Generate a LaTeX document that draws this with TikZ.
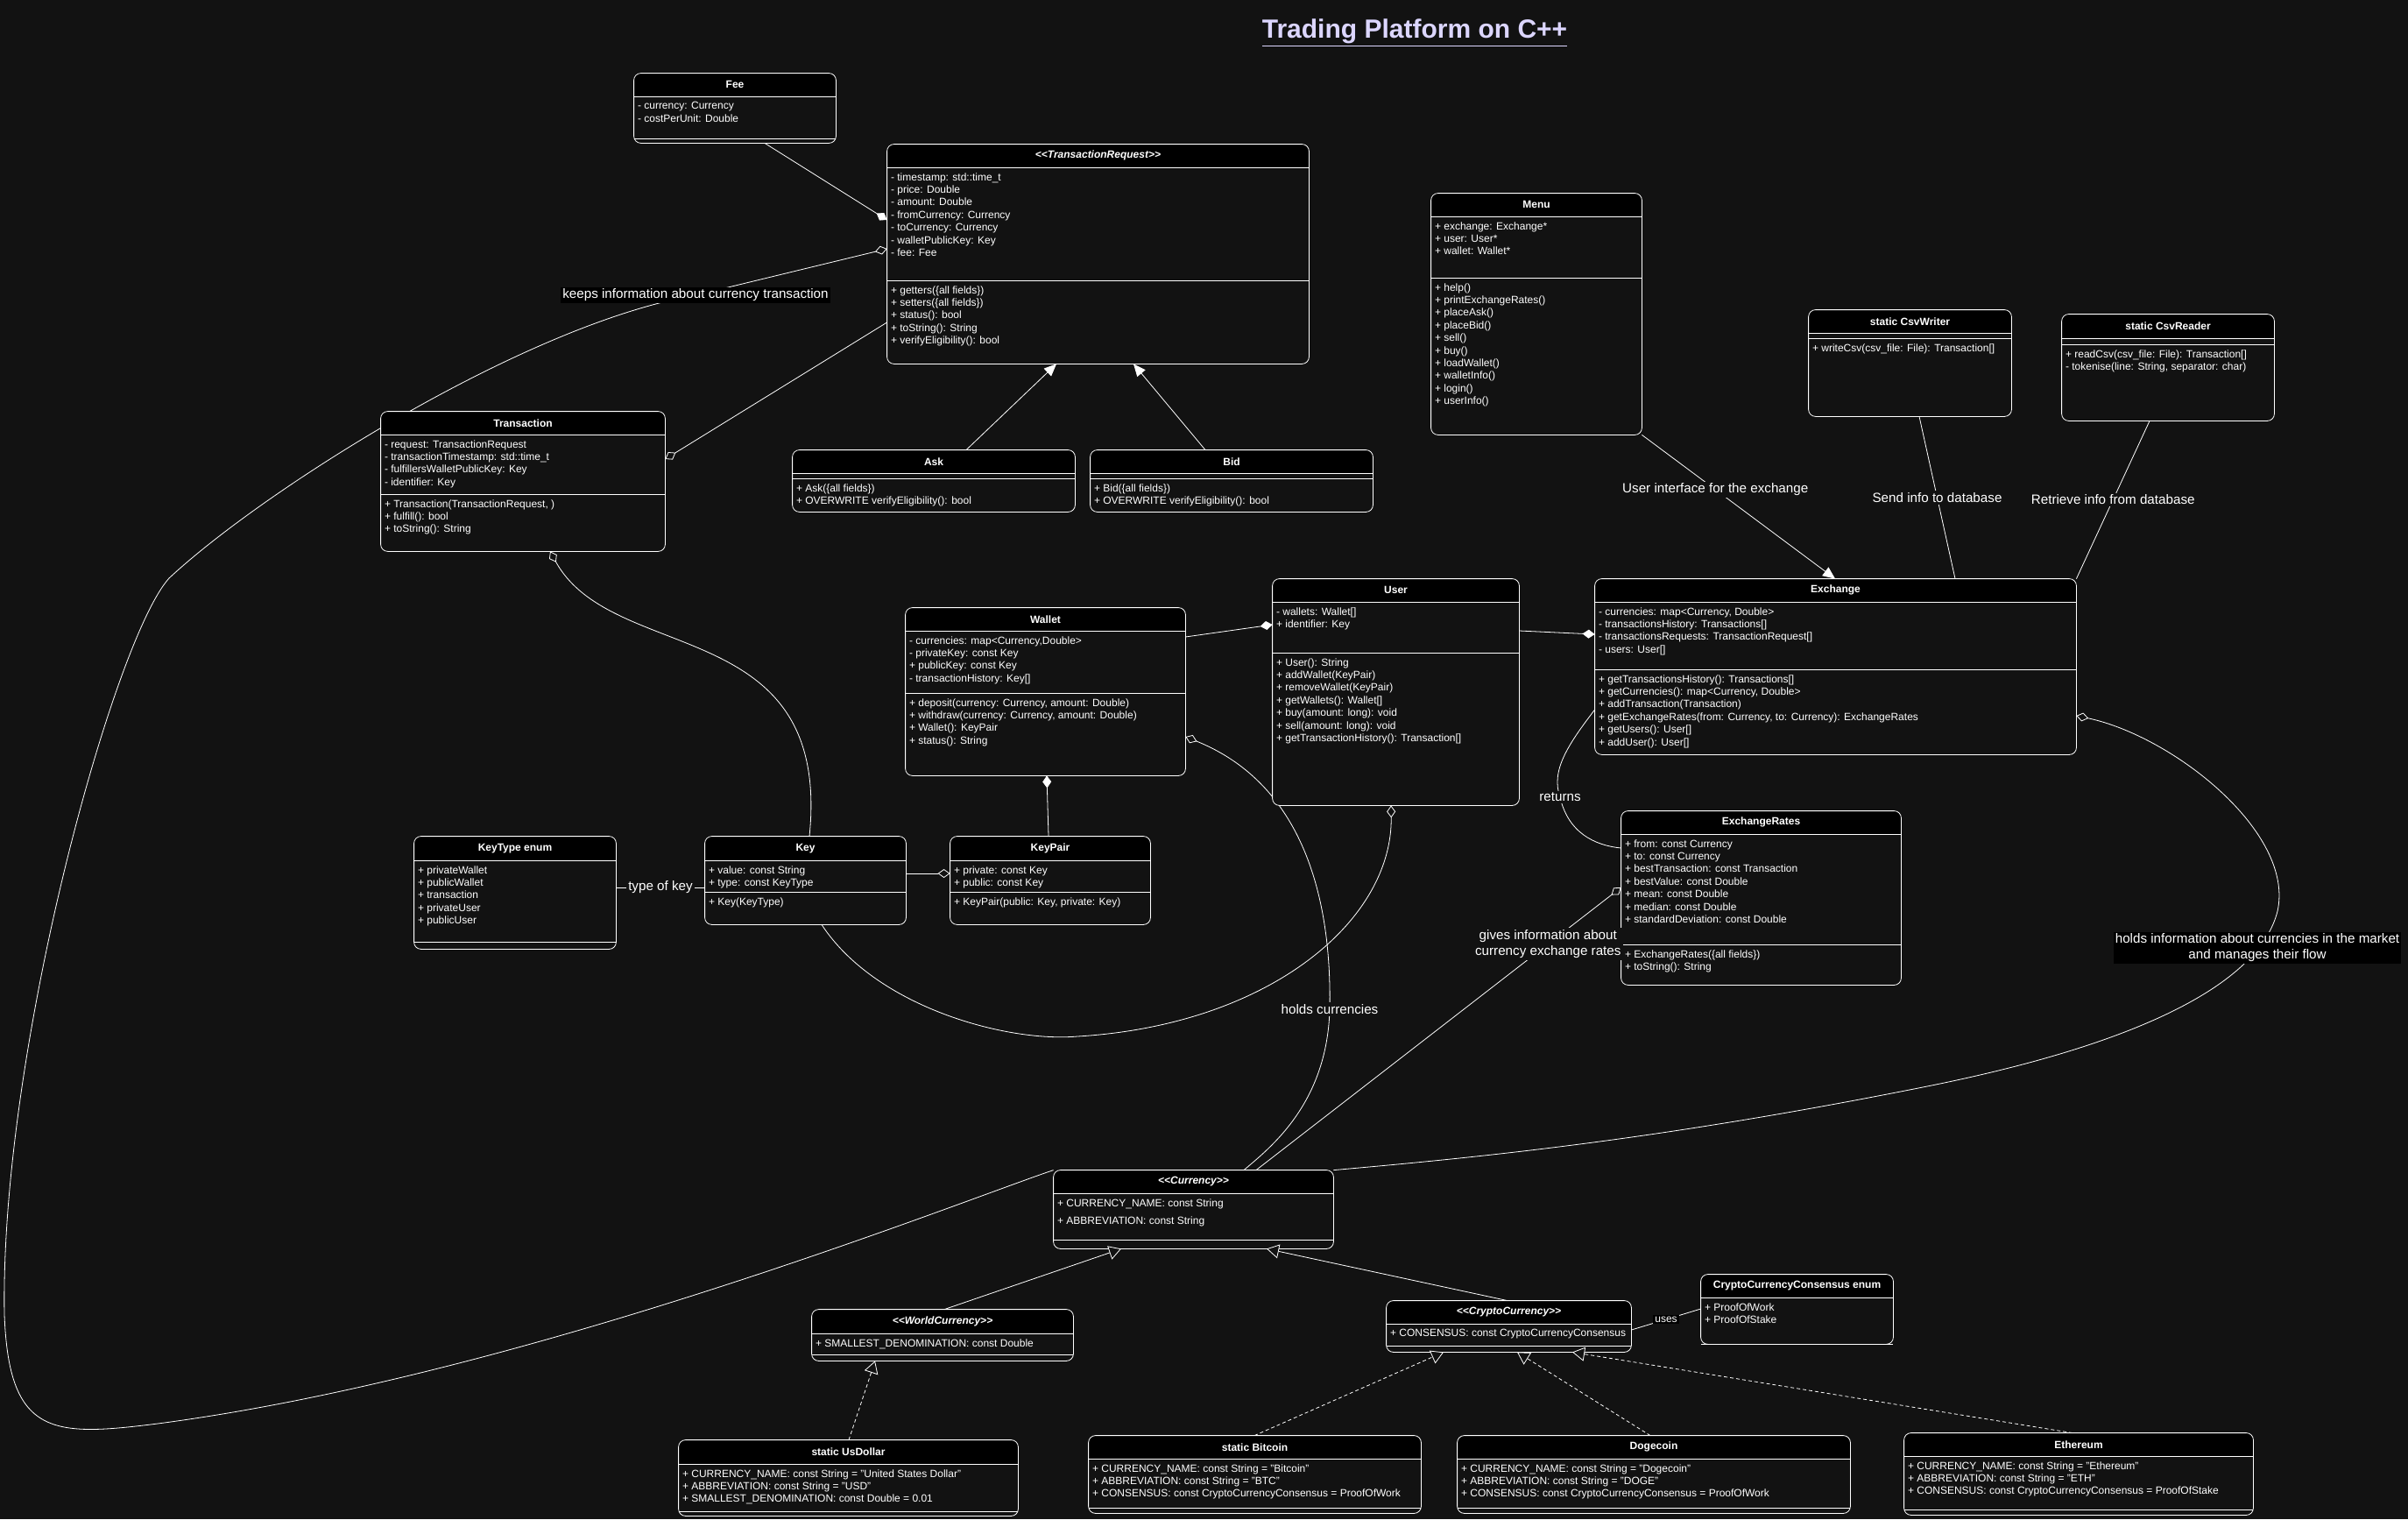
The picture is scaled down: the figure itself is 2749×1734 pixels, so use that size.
\documentclass[tikz,border=0pt]{standalone}
\usepackage{fontspec}
\setmainfont{Liberation Sans}
\usepackage{tikz}
\usetikzlibrary{fit,arrows.meta}
\pgfdeclarelayer{back}
\pgfdeclarelayer{wires}
\pgfsetlayers{back,wires,main}
\definecolor{bgDark}{HTML}{121212}
\definecolor{titleLav}{HTML}{DCD6FF}
\newcommand{\q}{\char"22\relax}
\newcommand{\st}[1]{\textless{}\textless{}#1\textgreater{}\textgreater{}}
\tikzset{
    members/.style={white,align=left,inner xsep=2pt,inner ysep=3pt,font=\fontsize{6}{7.2}\selectfont},
    classtitle/.style={white,font=\fontsize{6}{7.2}\selectfont\bfseries},
    lbl/.style={white,fill=bgDark,inner sep=1pt,align=center,font=\fontsize{7.6}{9}\selectfont},
    lblblack/.style={lbl,fill=black},
    link/.style={white,line width=0.4pt},
    comp/.style={link,-{Diamond[fill=white,width=5pt,length=7pt]}},
    agg/.style={link,-{Diamond[open,fill=bgDark,width=5pt,length=7pt]}},
    inh/.style={link,-{Triangle[fill=white,width=6pt,length=7pt]}},
    gen/.style={link,-{Triangle[open,fill=bgDark,width=8pt,length=7pt]}},
    real/.style={gen,dash pattern=on 2pt off 1.5pt},
}
% name, nw corner, se corner, header y, divider y, title, fields, operations
\newcommand{\umlclass}[8]{%
    \node[fit={(#2)(#3)},inner sep=0pt] (#1) {};
    \begin{scope}
        \clip[rounded corners=4pt] (#1.north west) rectangle (#1.south east);
        \fill[bgDark] (#1.north west) rectangle (#1.south east);
        \fill[black] (#1.north west) rectangle (#1.east |- 0,#4);
    \end{scope}
    \draw[white,rounded corners=4pt] (#1.north west) rectangle (#1.south east);
    \draw[white] (#1.west |- 0,#4) -- (#1.east |- 0,#4);
    \draw[white] (#1.west |- 0,#5) -- (#1.east |- 0,#5);
    \path (#1.north) -- (#1.north |- 0,#4) node[midway,classtitle] (#1-t) {#6};
    \node[members,anchor=north west] (#1-a) at (#1.west |- 0,#4) {#7};
    \node[members,anchor=north west] (#1-o) at (#1.west |- 0,#5) {#8};
}
\begin{document}
\begin{tikzpicture}[x=0.5pt,y=-0.5pt]
    \begin{pgfonlayer}{back}
        \fill[bgDark] (0,0) rectangle (2749,1734);
    \end{pgfonlayer}
    \useasboundingbox (0,0) rectangle (2749,1734);
    \node[titleLav,font=\fontsize{15}{17}\selectfont\bfseries] (title) at (1615,38) {\underline{Trading Platform on C++}};

    % classes
    \umlclass{Fee}{724,84}{954,163}{110}{158}{Fee}
        {- currency: Currency\\- costPerUnit: Double}{}
    \umlclass{TR}{1013,165}{1494,415}{191}{320}{\itshape\st{TransactionRequest}}
        {- timestamp: std::time\_t\\- price: Double\\- amount: Double\\- fromCurrency: Currency\\- toCurrency: Currency\\- walletPublicKey: Key\\- fee: Fee}
        {+ getters(\{all fields\})\\+ setters(\{all fields\})\\+ status(): bool\\+ toString(): String\\+ verifyEligibility(): bool}
    \umlclass{Menu}{1634,221}{1874,496}{247}{317}{Menu}
        {+ exchange: Exchange*\\+ user: User*\\+ wallet: Wallet*}
        {+ help()\\+ printExchangeRates()\\+ placeAsk()\\+ placeBid()\\+ sell()\\+ buy()\\+ loadWallet()\\+ walletInfo()\\+ login()\\+ userInfo()}
    \umlclass{CsvW}{2065,354}{2296,475}{380}{386}{static CsvWriter}
        {}{+ writeCsv(csv\_file: File): Transaction[]}
    \umlclass{CsvR}{2354,359}{2596,480}{386}{393}{static CsvReader}
        {}{+ readCsv(csv\_file: File): Transaction[]\\- tokenise(line: String, separator: char)}
    \umlclass{Tx}{435,470}{759,629}{496}{564}{Transaction}
        {- request: TransactionRequest\\- transactionTimestamp: std::time\_t\\- fulfillersWalletPublicKey: Key\\- identifier: Key}
        {+ Transaction(TransactionRequest, )\\+ fulfill(): bool\\+ toString(): String}
    \umlclass{Ask}{905,514}{1227,584}{540}{546}{Ask}
        {}{+ Ask(\{all fields\})\\+ OVERWRITE verifyEligibility(): bool}
    \umlclass{Bid}{1245,514}{1567,584}{540}{546}{Bid}
        {}{+ Bid(\{all fields\})\\+ OVERWRITE verifyEligibility(): bool}
    \umlclass{User}{1453,661}{1734,919}{687}{745}{User}
        {- wallets: Wallet[]\\+ identifier: Key}
        {+ User(): String\\+ addWallet(KeyPair)\\+ removeWallet(KeyPair)\\+ getWallets(): Wallet[]\\+ buy(amount: long): void\\+ sell(amount: long): void\\+ getTransactionHistory(): Transaction[]}
    \umlclass{Ex}{1821,661}{2370,861}{687}{764}{Exchange}
        {- currencies: map<Currency, Double>\\- transactionsHistory: Transactions[]\\- transactionsRequests: TransactionRequest[]\\- users: User[]}
        {+ getTransactionsHistory(): Transactions[]\\+ getCurrencies(): map<Currency, Double>\\+ addTransaction(Transaction)\\+ getExchangeRates(from: Currency, to: Currency): ExchangeRates\\+ getUsers(): User[]\\+ addUser(): User[]}
    \umlclass{Wal}{1034,694}{1353,885}{720}{791}{Wallet}
        {- currencies: map<Currency,Double>\\- privateKey: const Key\\+ publicKey: const Key\\- transactionHistory: Key[]}
        {+ deposit(currency: Currency, amount: Double)\\+ withdraw(currency: Currency, amount: Double)\\+ Wallet(): KeyPair\\+ status(): String}
    \umlclass{KT}{473,955}{703,1083}{982}{1075}{KeyType enum}
        {+ privateWallet\\+ publicWallet\\+ transaction\\+ privateUser\\+ publicUser}{}
    \umlclass{Key}{805,955}{1034,1055}{982}{1018}{Key}
        {+ value: const String\\+ type: const KeyType}{+ Key(KeyType)}
    \umlclass{KP}{1085,955}{1313,1055}{982}{1018}{KeyPair}
        {+ private: const Key\\+ public: const Key}{+ KeyPair(public: Key, private: Key)}
    \umlclass{XR}{1851,926}{2170,1124}{952}{1078}{ExchangeRates}
        {+ from: const Currency\\+ to: const Currency\\+ bestTransaction: const Transaction\\+ bestValue: const Double\\+ mean: const Double\\+ median: const Double\\+ standardDeviation: const Double}
        {+ ExchangeRates(\{all fields\})\\+ toString(): String}
    \umlclass{Cur}{1203,1336}{1522,1425}{1362}{1415}{\itshape\st{Currency}}
        {+ CURRENCY\_NAME: const String\\[3pt]+ ABBREVIATION: const String}{}
    \umlclass{CCE}{1942,1455}{2161,1534}{1481}{1534}{CryptoCurrencyConsensus enum}
        {+ ProofOfWork\\+ ProofOfStake}{}
    \umlclass{WC}{927,1495}{1225,1553}{1522}{1546}{\itshape\st{WorldCurrency}}
        {+ SMALLEST\_DENOMINATION: const Double}{}
    \umlclass{CC}{1583,1485}{1862,1543}{1511}{1536}{\itshape\st{CryptoCurrency}}
        {+ CONSENSUS: const CryptoCurrencyConsensus}{}
    \umlclass{USD}{775,1644}{1162,1730}{1671}{1725}{static UsDollar}
        {+ CURRENCY\_NAME: const String = \q United States Dollar\q\\+ ABBREVIATION: const String = \q USD\q\\+ SMALLEST\_DENOMINATION: const Double = 0.01}{}
    \umlclass{BTC}{1243,1639}{1622,1727}{1665}{1721}{static Bitcoin}
        {+ CURRENCY\_NAME: const String = \q Bitcoin\q\\+ ABBREVIATION: const String = \q BTC\q\\+ CONSENSUS: const CryptoCurrencyConsensus = ProofOfWork}{}
    \umlclass{DOGE}{1664,1639}{2112,1727}{1665}{1721}{Dogecoin}
        {+ CURRENCY\_NAME: const String = \q Dogecoin\q\\+ ABBREVIATION: const String = \q DOGE\q\\+ CONSENSUS: const CryptoCurrencyConsensus = ProofOfWork}{}
    \umlclass{ETH}{2174,1636}{2572,1729}{1662}{1723}{Ethereum}
        {+ CURRENCY\_NAME: const String = \q Ethereum\q\\+ ABBREVIATION: const String = \q ETH\q\\+ CONSENSUS: const CryptoCurrencyConsensus = ProofOfStake}{}

    % curved connectors go under the classes
    \begin{pgfonlayer}{wires}
    \draw[agg] (Cur.north west) .. controls (1100,1370) and (600,1570) .. (180,1625)
        .. controls (60,1640) and (10,1640) .. (5,1500)
        .. controls (0,1200) and (130,730) .. (193,660)
        .. controls (300,560) and (600,370) .. (794,337) -- (TR.west |- 0,284);
    \node[lblblack] (keepsLbl) at (794,337) {keeps information about currency transaction};
    \draw[agg] (Key.north -| 924,0) .. controls (950,700) and (700,760) .. (Tx.south -| 628,0);
    \draw[agg] (Key.south -| 938,0) .. controls (1000,1150) and (1150,1190) .. (1230,1183)
        .. controls (1450,1170) and (1590,1050) .. (User.south -| 1588,0);
    \draw[agg] (Cur.north -| 1420,0) .. controls (1450,1310) and (1515,1260) .. (1518,1152)
        .. controls (1520,1050) and (1500,900) .. (Wal.east |- 0,841);
    \node[lbl] (holdsLbl) at (1518,1152) {holds currencies};
    \draw[link] (Ex.west |- 0,810) .. controls (1790,850) and (1770,880) .. (1781,910)
        .. controls (1790,950) and (1820,965) .. (XR.west |- 0,968);
    \node[lbl] (retLbl) at (1781,910) {returns};
    \draw[agg] (Cur.north east) .. controls (1700,1320) and (1900,1300) .. (2200,1240)
        .. controls (2450,1190) and (2580,1120) .. (2600,1040)
        .. controls (2620,950) and (2480,840) .. (Ex.east |- 0,817);
    \end{pgfonlayer}
    \node[lblblack] (flowLbl) at (2577,1082) {holds information about currencies in the market\\and manages their flow};

    % straight connectors
    \draw[comp] (Fee.south -| 873,0) -- (TR.west |- 0,251);
    \draw[agg] (TR.west |- 0,368) -- (Tx.east |- 0,524);
    \draw[inh] (Ask.north -| 1103,0) -- (TR.south -| 1206,0);
    \draw[inh] (Bid.north -| 1376,0) -- (TR.south -| 1294,0);
    \draw[inh] (Menu.south east) -- node[lbl,pos=0.38] (uiLbl) {User interface for the exchange} (Ex.north -| 2095,0);
    \draw[link] (CsvW.south -| 2191,0) -- node[lbl,pos=0.5] (sendLbl) {Send info to database} (Ex.north -| 2232,0);
    \draw[link] (CsvR.south -| 2454,0) -- node[lbl,pos=0.5] (retrLbl) {Retrieve info from database} (Ex.north east);
    \draw[comp] (Wal.east |- 0,727) -- (User.west |- 0,713);
    \draw[comp] (User.east |- 0,720) -- (Ex.west |- 0,724);
    \draw[comp] (KP.north -| 1197,0) -- (Wal.south -| 1195,0);
    \draw[link] (KT.east |- 0,1013) -- node[lbl] (typeLbl) {type of key} (Key.west |- 0,1013);
    \draw[agg] (Key.east |- 0,997) -- (KP.west |- 0,997);
    \draw[agg] (Cur.north -| 1434,0) -- node[lbl,pos=0.8] (givesLbl) {gives information about\\currency exchange rates} (XR.west |- 0,1013);
    \draw[gen] (WC.north -| 1078,0) -- (Cur.south -| 1280,0);
    \draw[gen] (CC.north -| 1721,0) -- (Cur.south -| 1446,0);
    \draw[link] (CC.east |- 0,1518) -- node[lblblack,font=\fontsize{6}{7}\selectfont] (usesLbl) {uses} (CCE.west |- 0,1494);
    \draw[real] (USD.north -| 969,0) -- (WC.south -| 999,0);
    \draw[real] (BTC.north -| 1432,0) -- (CC.south -| 1648,0);
    \draw[real] (DOGE.north -| 1884,0) -- (CC.south -| 1732,0);
    \draw[real] (ETH.north -| 2366,0) -- (CC.south -| 1795,0);
\end{tikzpicture}
\end{document}
